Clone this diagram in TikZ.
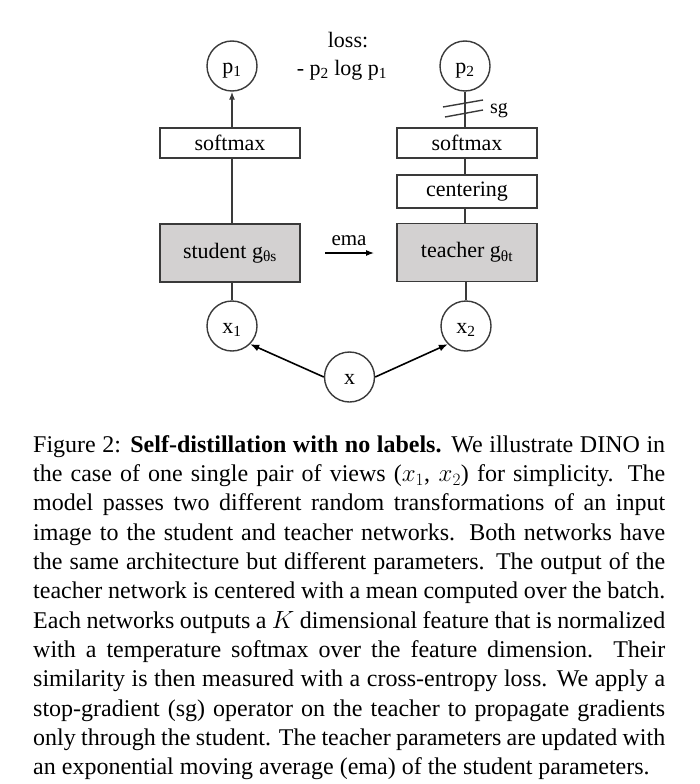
\documentclass[tikz,border=0pt]{standalone}
\usepackage{fontspec}
\setmainfont{Liberation Serif}
\usetikzlibrary{arrows.meta}
\definecolor{boxgray}{RGB}{211,209,209}
\definecolor{linec}{RGB}{58,58,58}
\begin{document}
\begin{tikzpicture}[x=1pt,y=-1pt,
  every node/.style={font=\fontsize{22}{26}\selectfont, text=black},
  circ/.style={circle,draw=linec,line width=1.4pt,minimum size=50pt,inner sep=0pt,text height=15pt,text depth=0pt},
  plainbox/.style={draw=linec,line width=1.4pt,minimum width=140pt,minimum height=30pt,inner sep=0pt},
  netbox/.style={draw=linec,line width=1.4pt,fill=boxgray,minimum width=140pt,minimum height=58pt,inner sep=0pt},
  conn/.style={draw=linec,line width=1.4pt},
  inarrow/.style={draw=black,line width=1.6pt,-{Latex[length=9pt,width=7pt]}},
  lbl/.style={anchor=base,inner sep=0pt},
]
\useasboundingbox (0,0) rectangle (699,784);

% nodes
\node[circ] (p1) at (232,66) {p\textsubscript{1}};
\node[circ] (p2) at (465,66) {p\textsubscript{2}};
\node[plainbox] (sm1) at (230,143) {softmax};
\node[plainbox] (sm2) at (467,143) {softmax};
\node[plainbox,minimum height=33pt] (cen) at (467,191.5) {centering};
\node[netbox] (stu) at (230,253) {student g\textsubscript{θs}};
\node[netbox] (tea) at (467,252.5) {teacher g\textsubscript{θt}};
\node[circ] (x1) at (232,326) {x\textsubscript{1}};
\node[circ] (x2) at (466,326) {x\textsubscript{2}};
\node[circ] (x) at (349.5,377) {x};

% labels
\node[lbl] (loss) at (348,48) {loss:};
\node[lbl] (lossf) at (342,75) {- p\textsubscript{2} log p\textsubscript{1}};
\node[lbl,font=\fontsize{21}{24}\selectfont] (ema) at (349,245) {ema};
\node[lbl,anchor=base west,font=\fontsize{20}{24}\selectfont] (sglbl) at (490,113) {sg};

% left column
\draw[conn,-{Latex[length=8pt,width=6pt]}] (p1.south |- sm1.north) -- (p1.south);
\draw[conn] (p1.south |- stu.north) -- (p1.south |- sm1.south);
\draw[conn] (x1.north) -- (x1.north |- stu.south);

% right column
\draw[conn] (p2.south) -- (p2.south |- sm2.north);
\draw[conn] (p2.south |- sm2.south) -- (p2.south |- cen.north);
\draw[conn] (p2.south |- cen.south) -- (p2.south |- tea.north);
\draw[conn] (x2.north) -- (x2.north |- tea.south);

% stop-gradient marks
\draw[conn] (443,107) -- (483,100);
\draw[conn] (445,117) -- (483,110);

% ema arrow
\coordinate (e1) at (325,253);
\coordinate (e2) at (374,253);
\draw[draw=black,line width=1.1pt,-{Latex[length=8pt,width=6pt]}] (e1) -- (e2);

% input arrows
\draw[inarrow] (x.west) -- (x1.south east);
\draw[inarrow] (x.east) -- (x2.south west);

% caption
\node[anchor=base west,inner sep=0pt,text width=632pt,align=justify,
      font=\fontsize{24}{29.36}\selectfont] (cap) at (33,452) {%
\tolerance=9999\emergencystretch=20pt\hyphenpenalty=10000\exhyphenpenalty=10000%
Figure 2: \textbf{Self-distillation with no labels.} We illustrate DINO in\linebreak
the case of one single pair of views ($x_1$, $x_2$) for simplicity. The\linebreak
model passes two different random transformations of an input\linebreak
image to the student and teacher networks. Both networks have\linebreak
the same architecture but different parameters. The output of the\linebreak
teacher network is centered with a mean computed over the batch.\linebreak
Each networks outputs a $K$ dimensional feature that is normalized\linebreak
with a temperature softmax over the feature dimension. Their\linebreak
similarity is then measured with a cross-entropy loss. We apply a\linebreak
stop-gradient (sg) operator on the teacher to propagate gradients\linebreak
only through the student. The teacher parameters are updated with\linebreak
an exponential moving average (ema) of the student parameters.};
\end{tikzpicture}
\end{document}
